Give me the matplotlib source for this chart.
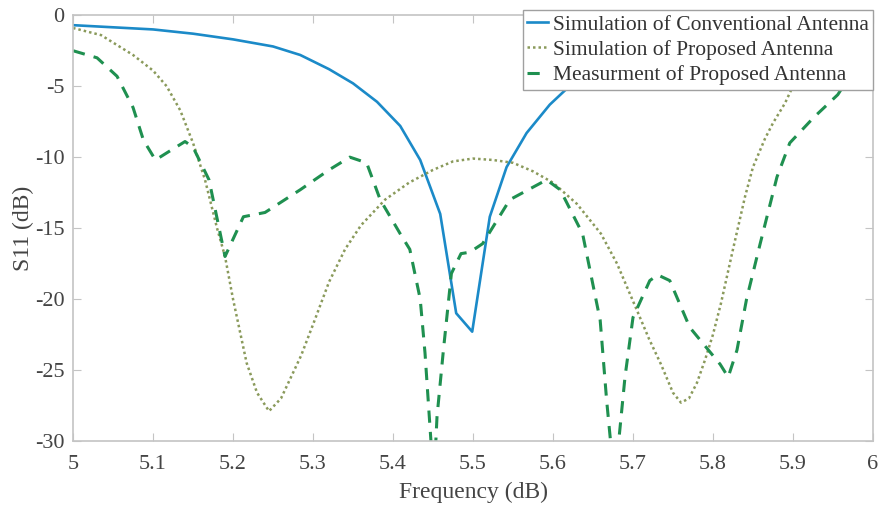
import numpy as np
import matplotlib.pyplot as plt

plt.rcParams['font.family'] = ['Liberation Serif', 'DejaVu Serif']
plt.rcParams['axes.unicode_minus'] = False

# Simulation of conventional antenna
f_conv = [5.00, 5.05, 5.10, 5.15, 5.20, 5.25, 5.284, 5.32, 5.35, 5.38, 5.409,
          5.434, 5.459, 5.479, 5.499, 5.521, 5.542, 5.567, 5.596, 5.63, 5.66, 5.70]
s_conv = [-0.7, -0.85, -1.0, -1.3, -1.7, -2.2, -2.8, -3.8, -4.8, -6.1, -7.8,
          -10.2, -14.0, -21.0, -22.3, -14.2, -10.7, -8.3, -6.3, -4.5, -3.2, -1.8]

# Simulation of proposed antenna
f_sim = [5.00, 5.035, 5.075, 5.10, 5.117, 5.134, 5.15, 5.165, 5.18, 5.19, 5.20,
         5.217, 5.23, 5.245, 5.26, 5.27, 5.285, 5.30, 5.32, 5.34, 5.36, 5.39,
         5.42, 5.45, 5.475, 5.50, 5.525, 5.55, 5.575, 5.60, 5.63, 5.66, 5.68,
         5.705, 5.72, 5.735, 5.75, 5.76, 5.77, 5.78, 5.79, 5.80, 5.81, 5.825,
         5.84, 5.85, 5.865, 5.875, 5.89, 5.90, 5.93]
s_sim = [-0.9, -1.4, -2.8, -3.9, -5.0, -6.7, -9.0, -11.6, -15.0, -17.0, -20.0,
         -24.5, -26.6, -27.9, -27.0, -25.8, -24.0, -21.8, -18.8, -16.5, -14.8, -13.0,
         -11.8, -10.9, -10.3, -10.1, -10.2, -10.4, -11.0, -11.8, -13.3, -15.4, -17.5,
         -20.8, -22.8, -24.6, -26.6, -27.3, -27.0, -25.9, -24.3, -22.5, -20.3, -16.5,
         -12.8, -10.7, -8.7, -7.6, -6.2, -5.0, -2.0]

# Measurement of proposed antenna
f_meas = [5.00, 5.03, 5.055, 5.075, 5.088, 5.103, 5.12, 5.14, 5.15, 5.17, 5.19,
          5.213, 5.24, 5.284, 5.32, 5.346, 5.367, 5.384, 5.409, 5.421, 5.434, 5.44,
          5.451, 5.455, 5.463, 5.473, 5.485, 5.496, 5.512, 5.546, 5.592, 5.609,
          5.637, 5.659, 5.667, 5.677, 5.69, 5.70, 5.721, 5.731, 5.746, 5.771,
          5.809, 5.819, 5.83, 5.842, 5.859, 5.88, 5.896, 5.926, 5.956, 5.98]
s_meas = [-2.5, -3.0, -4.3, -6.5, -8.8, -10.2, -9.6, -8.9, -9.3, -11.6, -17.0,
          -14.2, -13.9, -12.3, -10.9, -10.0, -10.4, -13.0, -15.4, -16.5, -20.0, -23.8,
          -33.0, -28.3, -23.6, -18.2, -16.8, -16.7, -16.1, -13.0, -11.6, -12.3,
          -15.4, -21.5, -27.1, -33.0, -25.5, -21.3, -18.7, -18.3, -18.7, -22.0,
          -24.6, -25.5, -23.6, -20.0, -16.1, -11.4, -9.0, -7.2, -5.6, -3.5]

x_ticks = [5, 5.1, 5.2, 5.3, 5.4, 5.5, 5.6, 5.7, 5.8, 5.9, 6]
x_labels = ['5', '5.1', '5.2', '5.3', '5.4', '5.5', '5.6', '5.7', '5.8', '5.9', '6']
y_ticks = [-30, -25, -20, -15, -10, -5, 0]

fig = plt.figure(figsize=(8.8, 5.08), dpi=100)
ax = fig.add_axes([0.083, 0.132, 0.909, 0.838])

ax.plot(f_conv, s_conv, color='#1b8ac8', lw=1.9, label='Simulation of Conventional Antenna')
ax.plot(f_sim, s_sim, color='#8a9a5b', lw=1.8, linestyle=(0, (1, 1.2)),
        label='Simulation of Proposed Antenna')
ax.plot(f_meas, s_meas, color='#1f9050', lw=2.2, linestyle=(0, (4, 3)),
        label='Measurment of Proposed Antenna')

ax.set_xlim(5, 6)
ax.set_ylim(-30, 0)
ax.set_xticks(x_ticks)
ax.set_xticklabels(x_labels)
ax.set_yticks(y_ticks)

for s in ax.spines.values():
    s.set_color('#c4c4c4')
    s.set_linewidth(1.2)
ax.tick_params(direction='in', top=True, right=True, length=6, color='#c4c4c4',
               labelsize=16, labelcolor='#444444')
ax.tick_params(axis='x', pad=10)
ax.tick_params(axis='y', pad=6)

ax.set_xlabel('Frequency (dB)', fontsize=17, color='#444444', labelpad=6)
ax.set_ylabel('S11 (dB)', fontsize=17, color='#444444', labelpad=1)

leg = ax.legend(loc='upper right', bbox_to_anchor=(1.0, 1.012), fontsize=15.5,
                handlelength=1.0, handletextpad=0.2, borderpad=0.2,
                labelspacing=0.25, fancybox=False, framealpha=1,
                edgecolor='#a0a0a0', borderaxespad=0)
for t in leg.get_texts():
    t.set_color('#333333')

fig.savefig('out.png', dpi=100)
